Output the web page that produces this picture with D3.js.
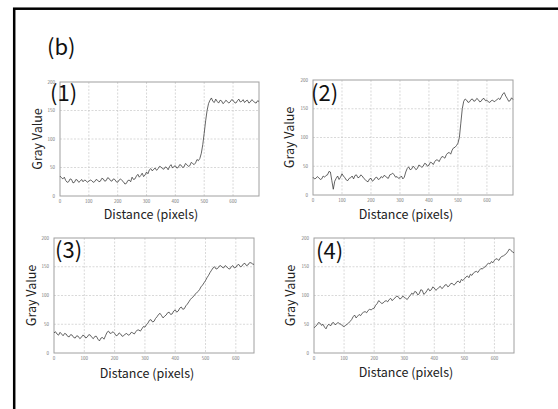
<!DOCTYPE html>
<html>
<head>
<meta charset="utf-8">
<script src="https://cdn.jsdelivr.net/npm/d3@7"></script>
<style>
  body { margin: 0; background: #fff; }
  svg { display: block; }
</style>
</head>
<body>
<script>
// line profiles, gray value read every 5 pixels of distance
var profile1 = [35,32,30,33,27,24,25,30,29,23,24,29,28,24,26,29,25,28,27,24,
                26,28,27,24,25,29,28,25,26,31,30,26,27,32,31,27,26,30,29,25,
                24,28,30,27,25,21,22,27,28,25,33,29,30,35,38,33,36,40,34,37,
                42,39,46,48,44,47,49,45,48,52,51,48,47,51,50,46,52,55,49,52,
                53,49,50,55,54,50,51,57,55,52,53,59,57,55,58,64,62,66,75,90,
                110,132,150,162,168,172,166,164,170,166,163,168,167,162,164,168,166,163,165,169,
                168,164,163,167,170,165,166,169,164,167,168,163,165,169,167,164,163,167,166];
var profile2 = [31,28,29,32,30,27,28,33,31,34,35,41,40,25,10,24,29,33,27,31,
                37,33,30,26,25,29,30,33,28,34,35,30,31,35,33,29,27,24,23,28,
                29,24,26,30,31,27,28,32,30,34,33,30,29,35,36,38,35,31,32,29,
                30,33,28,31,40,46,49,44,45,50,48,44,46,52,51,48,50,55,54,50,
                52,57,56,53,58,61,61,58,63,67,66,64,70,73,74,71,78,82,83,86,
                90,100,125,150,163,167,165,161,162,166,167,163,164,168,166,162,163,167,168,164,
                165,162,161,164,165,162,164,166,168,166,171,176,178,172,168,163,164,169,166];
var profile3 = [35,37,33,31,36,33,30,34,33,29,28,32,31,27,26,30,29,25,27,31,
                30,26,28,32,31,27,25,29,29,24,21,26,27,24,30,36,38,34,35,37,
                34,30,31,35,33,29,30,33,34,31,32,36,35,33,37,40,40,38,42,46,
                45,49,52,57,58,54,55,60,63,67,69,65,61,64,66,70,71,67,68,73,
                75,71,73,78,80,76,77,82,85,89,93,96,98,102,104,107,110,115,118,122,
                126,131,135,140,144,148,150,146,147,151,152,149,148,152,150,147,146,150,152,148,
                149,153,154,150,151,155,156,152,153,157,157,155,154];
var profile4 = [44,46,49,53,52,48,50,45,42,48,50,47,52,53,49,51,53,51,50,47,
                46,48,50,52,55,58,63,66,61,64,67,65,69,71,72,70,74,76,75,77,
                78,83,86,91,89,86,87,90,91,89,93,95,91,94,96,99,98,94,95,99,
                97,95,93,97,100,104,102,107,106,101,103,110,109,102,104,108,112,108,110,115,
                113,109,111,114,116,112,114,118,119,115,117,121,121,118,120,124,125,122,128,126,
                129,132,134,131,137,135,139,141,142,140,144,147,146,149,150,154,156,155,159,157,
                161,164,163,161,166,168,169,171,173,177,181,178,176,174];

var xTicks = [0, 100, 200, 300, 400, 500, 600];
var yTicks = [0, 50, 100, 150, 200];
var panelLabels = ["(1)", "(2)", "(3)", "(4)"];
var step = 5;

var W = 558, H = 409;
var font = "'Noto Sans CJK JP', 'Noto Sans', sans-serif";

var svg = d3.select("body").append("svg")
  .attr("width", W)
  .attr("height", H);

// outer frame
svg.append("rect")
  .attr("x", 14.2).attr("y", 8.7)
  .attr("width", 600).attr("height", 450)
  .attr("fill", "none")
  .attr("stroke", "#000")
  .attr("stroke-width", 2.5);

svg.append("text")
  .attr("x", 47).attr("y", 55)
  .style("font-family", font)
  .style("font-size", "22px")
  .attr("fill", "#111")
  .text("(b)");

var panels = [
  {data: profile1, xmax: 690, left: 60, top: 82, right: 259, bottom: 196, lx: 50, ly: 101, yl: 38, xl: 151, xb: 219},
  {data: profile2, xmax: 690, left: 313, top: 80, right: 513, bottom: 195, lx: 311, ly: 101, yl: 290, xl: 406, xb: 219},
  {data: profile3, xmax: 660, left: 54, top: 238, right: 254, bottom: 353, lx: 55, ly: 258, yl: 32, xl: 147, xb: 378},
  {data: profile4, xmax: 665, left: 314, top: 238, right: 514, bottom: 353, lx: 316, ly: 259, yl: 291, xl: 406, xb: 377}
];

panels.forEach(function(p, k) {
  var x = d3.scaleLinear().domain([0, p.xmax]).range([p.left, p.right]);
  var y = d3.scaleLinear().domain([0, 200]).range([p.bottom, p.top]);
  var g = svg.append("g");

  // dashed grid
  g.selectAll(".vgrid")
    .data(xTicks.filter(function(t) { return t > 0; }))
    .enter().append("line")
    .attr("x1", function(d) { return x(d); })
    .attr("x2", function(d) { return x(d); })
    .attr("y1", p.top).attr("y2", p.bottom)
    .attr("stroke", "#c8c8c8")
    .attr("stroke-width", 0.7)
    .attr("stroke-dasharray", "2,1.5");

  g.selectAll(".hgrid")
    .data(yTicks.filter(function(t) { return t > 0 && t < 200; }))
    .enter().append("line")
    .attr("y1", function(d) { return y(d); })
    .attr("y2", function(d) { return y(d); })
    .attr("x1", p.left).attr("x2", p.right)
    .attr("stroke", "#c8c8c8")
    .attr("stroke-width", 0.7)
    .attr("stroke-dasharray", "2,1.5");

  // plot box
  g.append("rect")
    .attr("x", p.left).attr("y", p.top)
    .attr("width", p.right - p.left)
    .attr("height", p.bottom - p.top)
    .attr("fill", "none")
    .attr("stroke", "#a0a0a0")
    .attr("stroke-width", 1);

  // tiny tick labels
  g.selectAll(".xt")
    .data(xTicks)
    .enter().append("text")
    .attr("x", function(d) { return x(d); })
    .attr("y", p.bottom + 6.5)
    .attr("text-anchor", "middle")
    .style("font-family", font)
    .style("font-size", "4.5px")
    .attr("fill", "#777")
    .text(function(d) { return d; });

  g.selectAll(".yt")
    .data(yTicks)
    .enter().append("text")
    .attr("x", p.left - 5)
    .attr("y", function(d) { return y(d) + 1.5; })
    .attr("text-anchor", "end")
    .style("font-family", font)
    .style("font-size", "4.5px")
    .attr("fill", "#777")
    .text(function(d) { return d; });

  // profile line
  var line = d3.line()
    .x(function(d, i) { return x(Math.min(i * step, p.xmax)); })
    .y(function(d) { return y(d); });

  g.append("path")
    .datum(p.data)
    .attr("d", line)
    .attr("fill", "none")
    .attr("stroke", "#333")
    .attr("stroke-width", 0.75);

  // panel label
  g.append("text")
    .attr("x", p.lx).attr("y", p.ly)
    .style("font-family", font)
    .style("font-size", "22px")
    .attr("fill", "#111")
    .text(panelLabels[k]);

  // axis titles
  g.append("text")
    .attr("transform", "translate(" + (p.yl + 4) + "," + ((p.top + p.bottom) / 2) + ") rotate(-90)")
    .attr("text-anchor", "middle")
    .style("font-family", font)
    .style("font-size", "12.5px")
    .attr("fill", "#222")
    .text("Gray Value");

  g.append("text")
    .attr("x", p.xl).attr("y", p.xb)
    .attr("text-anchor", "middle")
    .style("font-family", font)
    .style("font-size", "12.5px")
    .attr("fill", "#222")
    .text("Distance (pixels)");
});
</script>
</body>
</html>
